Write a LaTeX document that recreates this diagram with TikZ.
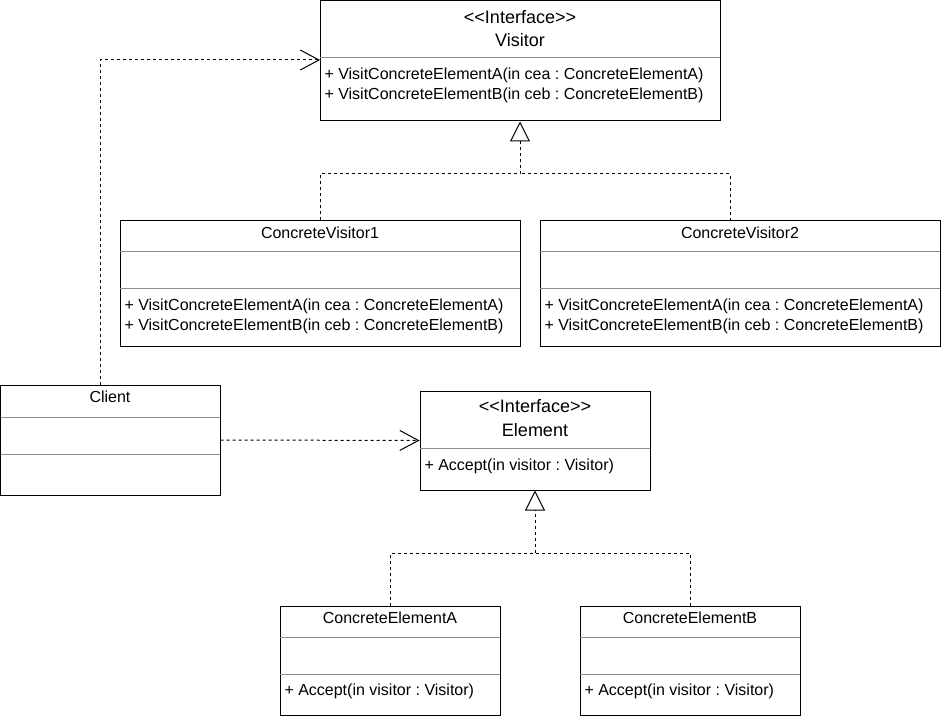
\documentclass[tikz,border=0pt]{standalone}
\usepackage{fontspec}
\newfontfamily\umlfont{Liberation Sans}
\usepackage{tikz}
\usetikzlibrary{arrows.meta,calc,fit,positioning}
\definecolor{umlLine}{HTML}{000000}
\definecolor{umlSep}{HTML}{8C8C8C}
\tikzset{
  class box/.style={draw=umlLine, fill=white, inner sep=0pt},
  sep line/.style={draw=umlSep, line width=0.75pt},
  class title/.style={font=\umlfont\fontsize{12}{14}\selectfont, inner sep=0pt},
  iface title/.style={font=\umlfont\fontsize{13.5}{16}\selectfont, inner sep=0pt},
  member/.style={font=\umlfont\fontsize{12}{14}\selectfont, inner sep=0pt,
    anchor=west},
  dep arrow/.style={-{Straight Barb[length=14pt, width=15pt]},
    dash pattern=on 2.25pt off 2.25pt, draw=umlLine},
  real arrow/.style={-{Triangle[open, length=15pt, width=15pt]},
    dash pattern=on 2.25pt off 2.25pt, draw=umlLine},
  real line/.style={dash pattern=on 2.25pt off 2.25pt, draw=umlLine}
}
\frenchspacing

\begin{document}
\begin{tikzpicture}[x=0.75pt, y=-0.75pt, line width=0.75pt]
  \useasboundingbox (0,0) rectangle (941,716);

  % Visitor interface
  \node[class box, fit={(320,1) (720,121)}] (visitor) {};
  \node[iface title] (visStereo) at (520,17)
    {<{}<Interface>{}>};
  \node[iface title] (visName) at (520,40) {Visitor};
  \draw[sep line] (320,58) -- (720,58);
  \node[member] (visOpA) at (324,75)
    {+ VisitConcreteElementA(in cea : ConcreteElementA)};
  \node[member] (visOpB) at (324,95)
    {+ VisitConcreteElementB(in ceb : ConcreteElementB)};

  % concrete visitors
  \node[class box, fit={(120,221) (520,346)}] (cv1) {};
  \node[class title] (cv1Name) at (320,233) {ConcreteVisitor1};
  \draw[sep line] (120,252) -- (520,252);
  \draw[sep line] (120,289) -- (520,289);
  \node[member] (cv1OpA) at (124,306)
    {+ VisitConcreteElementA(in cea : ConcreteElementA)};
  \node[member] (cv1OpB) at (124,326)
    {+ VisitConcreteElementB(in ceb : ConcreteElementB)};

  \node[class box, fit={(540,221) (940,346)}] (cv2) {};
  \node[class title] (cv2Name) at (740,233) {ConcreteVisitor2};
  \draw[sep line] (540,252) -- (940,252);
  \draw[sep line] (540,289) -- (940,289);
  \node[member] (cv2OpA) at (544,306)
    {+ VisitConcreteElementA(in cea : ConcreteElementA)};
  \node[member] (cv2OpB) at (544,326)
    {+ VisitConcreteElementB(in ceb : ConcreteElementB)};

  % client
  \node[class box, fit={(0.5,385) (220,495)}] (client) {};
  \node[class title] (cliName) at (110,397) {Client};
  \draw[sep line] (0.5,417) -- (220,417);
  \draw[sep line] (0.5,454) -- (220,454);

  % Element interface
  \node[class box, fit={(420,391) (650,490)}] (elem) {};
  \node[iface title] (elemStereo) at (535,406)
    {<{}<Interface>{}>};
  \node[iface title] (elemName) at (535,430) {Element};
  \draw[sep line] (420,448) -- (650,448);
  \node[member] (elemOp) at (424,466) {+ Accept(in visitor : Visitor)};

  % concrete elements
  \node[class box, fit={(280,606) (500,715)}] (cea) {};
  \node[class title] (ceaName) at (390,618) {ConcreteElementA};
  \draw[sep line] (280,637) -- (500,637);
  \draw[sep line] (280,674) -- (500,674);
  \node[member] (ceaOp) at (284,691) {+ Accept(in visitor : Visitor)};

  \node[class box, fit={(580,606) (800,715)}] (ceb) {};
  \node[class title] (cebName) at (690,618) {ConcreteElementB};
  \draw[sep line] (580,637) -- (800,637);
  \draw[sep line] (580,674) -- (800,674);
  \node[member] (cebOp) at (584,691) {+ Accept(in visitor : Visitor)};

  % connectors
  \coordinate (cliTop) at (100,385);
  \coordinate (visIn) at (320,60);
  \coordinate (cv2Top) at (730,221);
  \draw[dep arrow] (cliTop) |- (visIn);
  \draw[dep arrow] (client.east) -- (elem.west);
  \draw[real arrow] (cv1.north) |- (visitor.south |- 0,174) -- (visitor.south);
  \draw[real line] (cv2Top) |- (visitor.south |- 0,174);
  \draw[real arrow] (cea.north) |- (elem.south |- 0,553) -- (elem.south);
  \draw[real line] (ceb.north) |- (elem.south |- 0,553);
\end{tikzpicture}
\end{document}
